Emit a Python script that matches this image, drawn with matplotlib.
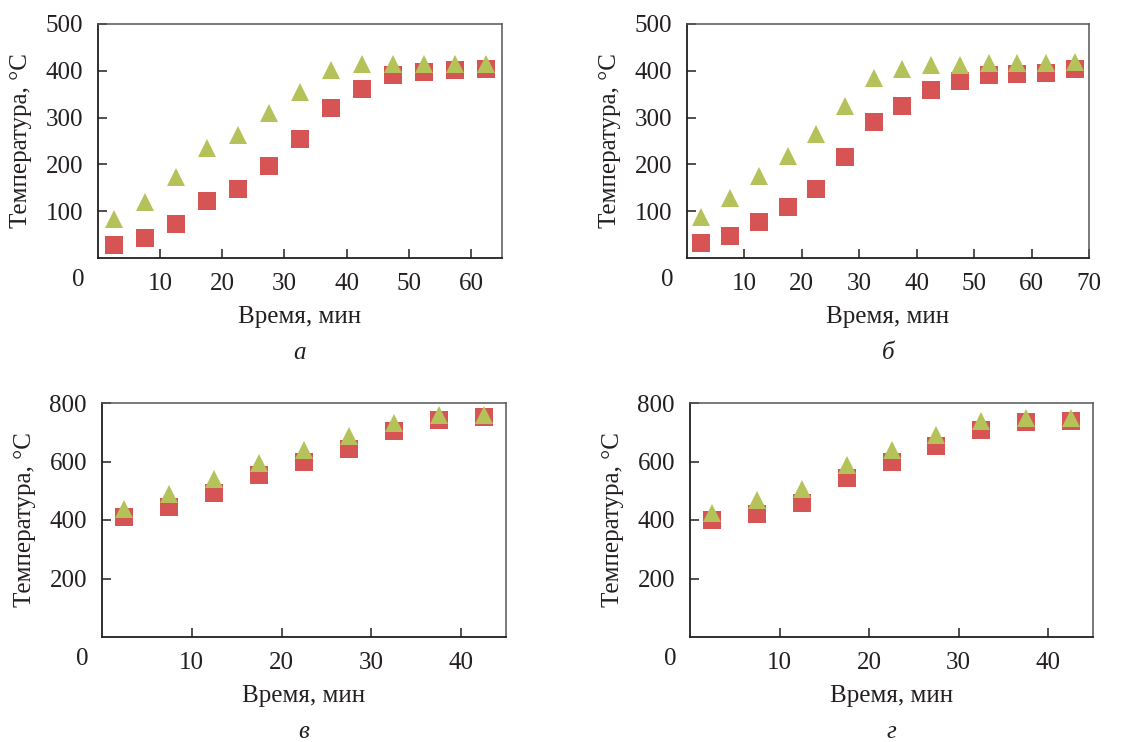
import matplotlib
matplotlib.use('Agg')
import matplotlib.pyplot as plt

plt.rcParams['font.family'] = ['Liberation Serif', 'DejaVu Serif']
plt.rcParams['font.size'] = 18

# time points, min
time_a = [2.5, 7.5, 12.5, 17.5, 22.5, 27.5, 32.5, 37.5, 42.5, 47.5, 52.5, 57.5, 62.5]
time_b = [2.5, 7.5, 12.5, 17.5, 22.5, 27.5, 32.5, 37.5, 42.5, 47.5, 52.5, 57.5, 62.5, 67.5]
time_cd = [2.5, 7.5, 12.5, 17.5, 22.5, 27.5, 32.5, 37.5, 42.5]

# temperatures, °C (squares = red, triangles = green)
sq_a = [28, 43, 73, 121, 148, 197, 255, 320, 362, 392, 397, 402, 403]
tr_a = [84, 120, 174, 235, 262, 309, 355, 401, 415, 415, 414, 415, 415]

sq_b = [32, 47, 77, 109, 148, 215, 290, 324, 359, 378, 391, 393, 396, 403]
tr_b = [87, 128, 175, 217, 266, 324, 384, 403, 412, 412, 417, 417, 417, 419]

sq_c = [410, 444, 492, 553, 600, 644, 704, 741, 751]
tr_c = [439, 489, 539, 596, 640, 686, 732, 759, 759]

sq_d = [401, 422, 458, 544, 599, 653, 707, 734, 738]
tr_d = [423, 467, 507, 589, 640, 692, 738, 750, 750]

panel_letters = ['а', 'б', 'в', 'г']

red = '#d65454'
green = '#b5c25a'
dark = '#231f20'

fig = plt.figure(figsize=(11.43, 7.42), dpi=100)
W, H = 1143, 742

# axes boxes in pixels: left, top, right, bottom
boxes = [(98, 24, 502, 258), (687, 24, 1089, 258),
         (102, 403, 506, 637), (690, 403, 1093, 637)]

panels = [
    (time_a, sq_a, tr_a, 65, 500, [10, 20, 30, 40, 50, 60], [100, 200, 300, 400, 500]),
    (time_b, sq_b, tr_b, 70, 500, [10, 20, 30, 40, 50, 60, 70], [100, 200, 300, 400, 500]),
    (time_cd, sq_c, tr_c, 45, 800, [10, 20, 30, 40], [200, 400, 600, 800]),
    (time_cd, sq_d, tr_d, 45, 800, [10, 20, 30, 40], [200, 400, 600, 800]),
]

for (l, t, r, b), (x, sq, tr, xmax, ymax, xt, yt), letter in zip(boxes, panels, panel_letters):
    ax = fig.add_axes([l / W, 1 - b / H, (r - l) / W, (b - t) / H])
    ax.plot(x, sq, 's', color=red, markersize=12.5, markeredgewidth=0, clip_on=False)
    ax.plot(x, tr, '^', color=green, markersize=12.5, markeredgewidth=0, clip_on=False)
    ax.set_xlim(0, xmax)
    ax.set_ylim(0, ymax)
    ax.set_xticks(xt)
    ax.set_yticks(yt)
    ax.tick_params(direction='in', length=6.5, width=1.1, color=dark,
                   labelcolor=dark, labelsize=18, pad=10.8)
    for side in ['left', 'bottom']:
        ax.spines[side].set_color(dark)
        ax.spines[side].set_linewidth(1.3)
    for side in ['top', 'right']:
        ax.spines[side].set_color('#555555')
        ax.spines[side].set_linewidth(1.1)

    # the lone "0" under the corner
    ax.annotate('0', xy=(0, 0), xycoords='axes fraction', xytext=(-20, -22),
                textcoords='offset pixels', ha='center', va='center',
                fontsize=18, color=dark)
    ax.annotate('Время, мин', xy=(0.5, 0), xycoords='axes fraction', xytext=(0, -59),
                textcoords='offset pixels', ha='center', va='center',
                fontsize=18, color=dark)
    ax.annotate('Температура, °С', xy=(0, 0.5), xycoords='axes fraction', xytext=(-77, 0),
                textcoords='offset pixels', ha='center', va='center', rotation=90,
                fontsize=18, color=dark)
    ax.annotate(letter, xy=(0.5, 0), xycoords='axes fraction', xytext=(0, -95),
                textcoords='offset pixels', ha='center', va='center',
                fontsize=18, style='italic', color=dark)

fig.savefig('out.png', dpi=100)
